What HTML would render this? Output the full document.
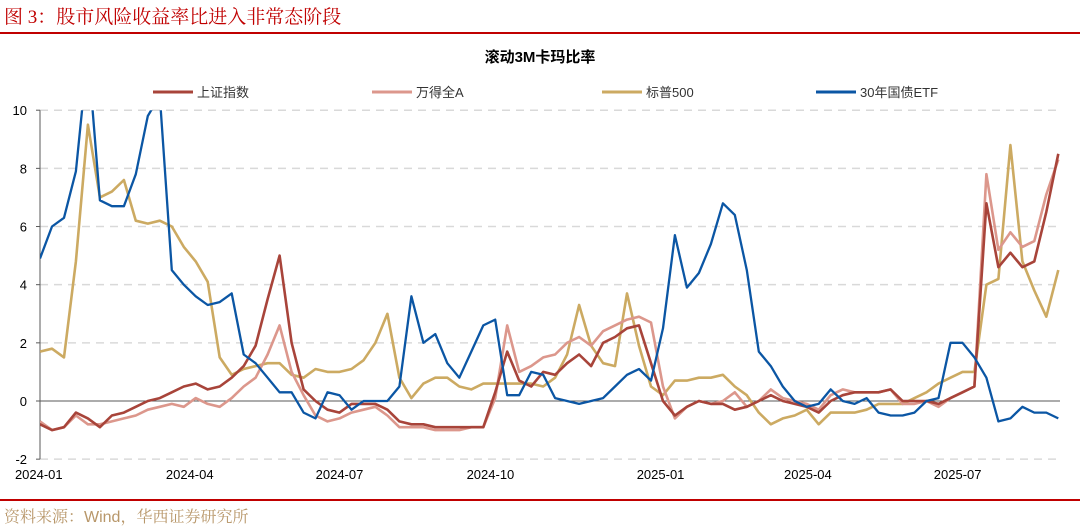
<!DOCTYPE html>
<html><head><meta charset="utf-8">
<style>
body{margin:0;background:#fff;width:1080px;height:525px;overflow:hidden;position:relative;font-family:"Liberation Sans","Noto Sans CJK SC",sans-serif;}
.title{position:absolute;left:4px;top:2px;font-family:"Liberation Serif","Noto Serif CJK SC",serif;font-size:19px;color:#c00000;white-space:nowrap;}
.src{position:absolute;left:4px;top:504px;font-family:"Liberation Sans","Noto Serif CJK SC",serif;font-size:16px;color:#b8976a;white-space:nowrap;}
</style></head>
<body>
<div class="title">图 3：股市风险收益率比进入非常态阶段</div>
<svg id="chart" width="1080" height="525" style="position:absolute;left:0;top:0"></svg>
<div class="src">资料来源：Wind，华西证券研究所</div>
<script>
const yTicks=[10,8,6,4,2,0,-2];
const yTickLabels=["10","8","6","4","2","0","-2"];
const xTickLabels=["2024-01","2024-04","2024-07","2024-10","2025-01","2025-04","2025-07"];
const xTickWeeks=[-0.1,12.5,25.0,37.6,51.8,64.1,76.6];
const seriesNames=["上证指数","万得全A","标普500","30年国债ETF"];
const shanghai=[-0.8,-1.0,-0.9,-0.4,-0.6,-0.9,-0.5,-0.4,-0.2,0.0,0.1,0.3,0.5,0.6,0.4,0.5,0.8,1.2,1.9,3.5,5.0,2.0,0.4,0.0,-0.3,-0.4,-0.1,-0.1,-0.1,-0.3,-0.7,-0.8,-0.8,-0.9,-0.9,-0.9,-0.9,-0.9,0.3,1.7,0.7,0.5,1.0,0.9,1.3,1.6,1.2,2.0,2.2,2.5,2.6,1.3,0.0,-0.5,-0.2,0.0,-0.1,-0.1,-0.3,-0.2,0.0,0.2,0.0,-0.1,-0.2,-0.4,0.0,0.2,0.3,0.3,0.3,0.4,0.0,0.0,0.0,-0.1,0.1,0.3,0.5,6.8,4.6,5.1,4.6,4.8,6.5,8.5];
const windA=[-0.7,-1.0,-0.9,-0.5,-0.8,-0.8,-0.7,-0.6,-0.5,-0.3,-0.2,-0.1,-0.2,0.1,-0.1,-0.2,0.1,0.5,0.8,1.6,2.6,1.0,0.2,-0.5,-0.7,-0.6,-0.4,-0.3,-0.2,-0.5,-0.9,-0.9,-0.9,-1.0,-1.0,-1.0,-0.9,-0.9,0.1,2.6,1.0,1.2,1.5,1.6,2.0,2.2,1.9,2.4,2.6,2.8,2.9,2.7,0.5,-0.6,-0.2,0.0,-0.1,0.0,0.3,-0.2,0.0,0.4,0.1,0.0,-0.1,-0.3,0.2,0.4,0.3,0.3,0.3,0.4,-0.1,-0.1,0.0,-0.2,0.1,0.3,0.5,7.8,5.2,5.8,5.3,5.5,7.1,8.3];
const sp500=[1.7,1.8,1.5,4.8,9.5,7.0,7.2,7.6,6.2,6.1,6.2,6.0,5.3,4.8,4.1,1.5,0.9,1.1,1.2,1.3,1.3,0.9,0.8,1.1,1.0,1.0,1.1,1.4,2.0,3.0,0.8,0.1,0.6,0.8,0.8,0.5,0.4,0.6,0.6,0.6,0.6,0.6,0.5,0.8,1.6,3.3,1.9,1.3,1.2,3.7,1.9,0.5,0.2,0.7,0.7,0.8,0.8,0.9,0.5,0.2,-0.4,-0.8,-0.6,-0.5,-0.3,-0.8,-0.4,-0.4,-0.4,-0.3,-0.1,-0.1,-0.1,0.1,0.3,0.6,0.8,1.0,1.0,4.0,4.2,8.8,4.8,3.8,2.9,4.5];
const bond30=[4.9,6.0,6.3,7.9,12,6.9,6.7,6.7,7.8,9.8,10.5,4.5,4.0,3.6,3.3,3.4,3.7,1.6,1.3,0.8,0.3,0.3,-0.4,-0.6,0.3,0.2,-0.3,0.0,0.0,0.0,0.5,3.6,2.0,2.3,1.3,0.8,1.7,2.6,2.8,0.2,0.2,1.0,0.9,0.1,0.0,-0.1,0.0,0.1,0.5,0.9,1.1,0.7,2.5,5.7,3.9,4.4,5.4,6.8,6.4,4.5,1.7,1.2,0.5,0.0,-0.2,-0.1,0.4,0.0,-0.1,0.1,-0.4,-0.5,-0.5,-0.4,0.0,0.1,2.0,2.0,1.5,0.8,-0.7,-0.6,-0.2,-0.4,-0.4,-0.6];
const colors=["#a8443a","#dc978c","#ccaa62","#0b56a4"];
const NS="http://www.w3.org/2000/svg";
const svg=document.getElementById('chart');
const X0=40,X1=1060,Y0=401,YU=29.08;
function xs(i){return 40+i*11.98;}
function ys(v){return Y0-v*YU;}
function mk(t,a,p){const e=document.createElementNS(NS,t);for(const k in a)e.setAttribute(k,a[k]);(p||svg).appendChild(e);return e;}
// header lines
let e=mk('rect',{x:0,y:32,width:1080,height:2,fill:'#c00000'});


e=mk('rect',{x:0,y:499,width:1080,height:2,fill:'#c00000'});


e=mk('text',{x:540,y:62,'text-anchor':'middle','font-size':15,'font-weight':'bold',fill:'#000'});
e.textContent='滚动3M卡玛比率';


// grid
yTicks.forEach((v,k)=>{
  if(v!==0){const g=mk('line',{x1:X0,x2:X1,y1:ys(v),y2:ys(v),stroke:'#d9d9d9','stroke-width':1.5,'stroke-dasharray':'8,6'});
  
  }
  const t=mk('text',{x:27,y:ys(v)+5,'text-anchor':'end','font-size':13,fill:'#000'});
  t.textContent=yTickLabels[k];
  
  
});
e=mk('line',{x1:X0,x2:X0,y1:ys(10),y2:ys(-2),stroke:'#595959','stroke-width':1});


e=mk('line',{x1:X0,x2:X1,y1:ys(0),y2:ys(0),stroke:'#595959','stroke-width':1});


yTicks.forEach(v=>{const t=mk('line',{x1:X0-4,x2:X0,y1:ys(v),y2:ys(v),stroke:'#595959'});

});
xTickLabels.forEach((s,k)=>{
  const t=mk('text',{x:xs(xTickWeeks[k]),y:479,'text-anchor':'middle','font-size':13,fill:'#000'});
  t.textContent=s;
  
  
});
// clip
const defs=mk('defs',{});
const cp=mk('clipPath',{id:'plotclip'},defs);
mk('rect',{x:X0,y:ys(10),width:X1-X0+10,height:ys(-2)-ys(10)},cp);
const all=[shanghai,windA,sp500,bond30];
const order=[2,1,0,3];
const names=['line-shanghai','line-wind-a','line-sp500','line-bond30'];
order.forEach(s=>{
  const d=all[s].map((v,i)=>(i?'L':'M')+xs(i).toFixed(1)+','+ys(v).toFixed(1)).join(' ');
  const p=mk('path',{d:d,fill:'none',stroke:colors[s],'stroke-width':s===3?2.3:2.6,'stroke-linejoin':'round','clip-path':'url(#plotclip)'});
  
  
});
// legend
const lx=[153,372,602,816];
seriesNames.forEach((n,k)=>{
  const l=mk('line',{x1:lx[k],x2:lx[k]+40,y1:92,y2:92,stroke:colors[k],'stroke-width':3});
  
  
  const t=mk('text',{x:lx[k]+44,y:97,'font-size':13,fill:'#333'});
  t.textContent=n;
  
  
});
</script>
</body></html>
